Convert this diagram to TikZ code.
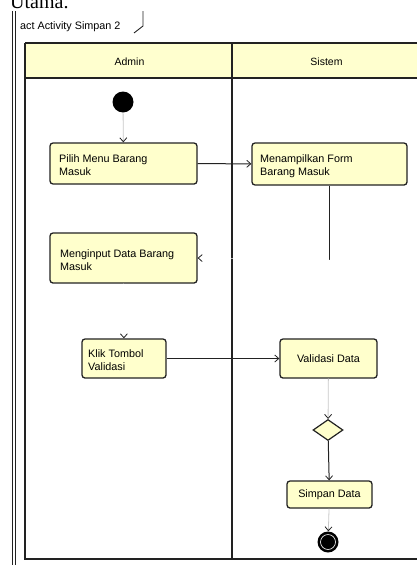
\documentclass[tikz,border=0pt]{standalone}
\usepackage{fontspec}
\setmainfont{Liberation Serif}
\setsansfont{Liberation Sans}
\usetikzlibrary{arrows.meta,shapes.geometric}
\definecolor{actfill}{HTML}{FFFFCC}
\definecolor{lanefill}{HTML}{FFFFCF}
\definecolor{edge}{HTML}{222222}
\definecolor{faintline}{HTML}{C8C8C8}
\tikzset{
  boxfont/.style={font=\sffamily\fontsize{10.8}{13}\selectfont},
  action/.style={draw=edge, line width=1.3pt, fill=actfill, rounded corners=3pt,
    inner sep=0pt, boxfont},
  boxtext/.style={align=left, anchor=base west, inner sep=0pt, boxfont},
  flow/.style={draw=edge, line width=1pt},
  faintflow/.style={draw=faintline, line width=0.8pt},
  tip/.style={-{Straight Barb[length=4pt,width=7pt,color=edge,line width=0.8pt]}},
  lanehead/.style={font=\sffamily\fontsize{10.5}{12}\selectfont},
}
\begin{document}
\begin{tikzpicture}[x=1pt,y=-1pt]
  \useasboundingbox (0,0) rectangle (417,565);
  \clip (0,0) rectangle (417,565);

  % caption line of the surrounding text
  \node[anchor=base west, inner sep=0pt, font=\fontsize{20}{22}\selectfont] (utama) at (10,8) {Utama.};

  % diagram frame with its name tab
  \draw[edge, line width=0.8pt] (12,11) -- (12,570);
  \draw[edge, line width=0.8pt] (15,11) -- (15,570);
  \draw[edge, line width=0.9pt] (143,11) -- (143,26) -- (134,33);
  \node[anchor=base west, inner sep=0pt, font=\sffamily\fontsize{10.8}{12}\selectfont] (frametitle) at (20,29) {act Activity Simpan 2};

  % swimlanes
  \fill[lanefill] (25,43) rectangle (430,78);
  \draw[edge, line width=1.1pt] (25,43) -- (430,43);
  \draw[edge, line width=1.1pt] (25,78) -- (430,78);
  \draw[edge, line width=1.4pt] (25,43) -- (25,559) -- (430,559);
  \draw[edge, line width=1.1pt] (232,43) -- (232,559);
  \node[lanehead] (admin) at (129.5,62) {Admin};
  \node[lanehead] (sistem) at (326.5,62) {Sistem};

  % nodes (two-line labels are anchored on their last baseline)
  \node[circle, fill=black, minimum size=21pt, inner sep=0pt] (start) at (123,102) {};
  \node[action, minimum width=147pt, minimum height=41pt] (b1) at (123.5,163.5) {};
  \node[boxtext] (t1) at (59,175) {Pilih Menu Barang\\Masuk};
  \node[action, minimum width=155pt, minimum height=42pt] (b2) at (329.5,164) {};
  \node[boxtext] (t2) at (260,175) {Menampilkan Form\\Barang Masuk};
  \node[action, minimum width=147pt, minimum height=50pt] (b3) at (123.5,258) {};
  \node[boxtext] (t3) at (60,270.5) {Menginput Data Barang\\Masuk};
  \node[action, minimum width=84pt, minimum height=39pt] (b4) at (124,358.5) {};
  \node[boxtext] (t4) at (88,370) {Klik Tombol\\Validasi};
  \node[action, minimum width=97pt, minimum height=39pt] (b5) at (328.5,358.5) {Validasi Data};
  \node[diamond, draw=edge, line width=1.2pt, fill=actfill, minimum width=30pt, minimum height=21pt, inner sep=0pt] (dec) at (328,430) {};
  \node[action, minimum width=85pt, minimum height=27pt] (b6) at (329.5,494.5) {Simpan Data};
  \node[circle, fill=black, minimum size=21pt, inner sep=0pt] (final) at (328,542) {};
  \draw[white, line width=0.6pt] (final) circle (7.5pt);

  % connectors
  \coordinate (turn) at (b2.south |- 0,260);
  \draw[faintflow, tip] (start) -- (b1);
  \draw[flow, tip] (b1) -- (b2);
  \draw[flow] (b2.south) -- (turn);
  \draw[draw=white, line width=0.5pt, tip] (turn) -- (b3.east);
  \draw[draw=white, line width=0.5pt, tip] (b3) -- (b4);
  \draw[flow, tip] (b4) -- (b5);
  \draw[faintflow, tip] (b5) -- (dec);
  \draw[flow, tip] (dec) -- (b6);
  \draw[faintflow, tip] (b6) -- (final);
\end{tikzpicture}
\end{document}
